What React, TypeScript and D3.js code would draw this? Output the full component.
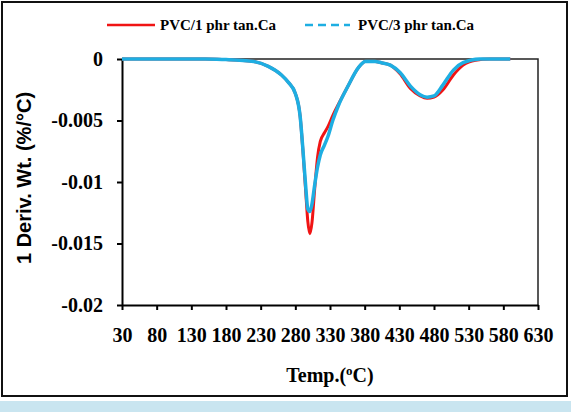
import React, { useRef, useEffect } from "react";
import * as d3 from "d3";

// DTG curves, temperature in °C and derivative weight in %/°C
const temps1 = [30, 100, 150, 180, 200, 220, 241, 260, 270, 280, 287, 291, 295, 298, 301, 304, 308, 312, 316, 322, 327, 334, 342, 356, 371, 381, 395, 404, 417, 431, 446, 460, 470, 480, 493, 508, 522, 540, 560, 590];
const deriv1 = [0, 0, 0, -0.00005, -0.0001, -0.0002, -0.0006, -0.0013, -0.0019, -0.0028, -0.0047, -0.0075, -0.0108, -0.0132, -0.0142, -0.0133, -0.0105, -0.008, -0.0067, -0.006, -0.0055, -0.0046, -0.0037, -0.0022, -0.0007, -0.0002, -0.0002, -0.0003, -0.0005, -0.0012, -0.0024, -0.003, -0.0032, -0.0031, -0.0025, -0.0013, -0.0005, -0.0001, 0, 0];

const temps3 = [30, 100, 150, 180, 200, 220, 241, 260, 270, 280, 287, 291, 295, 298, 301, 304, 308, 312, 316, 322, 327, 334, 342, 356, 371, 381, 395, 404, 417, 431, 446, 460, 470, 480, 493, 508, 522, 546, 570, 590];
const deriv3 = [0, 0, 0, -0.00005, -0.0001, -0.0002, -0.0006, -0.0013, -0.0019, -0.0028, -0.0047, -0.0074, -0.0104, -0.0122, -0.0124, -0.0118, -0.0102, -0.0088, -0.0078, -0.007, -0.0063, -0.005, -0.0038, -0.0022, -0.0007, -0.0002, -0.0002, -0.0003, -0.0005, -0.0011, -0.0022, -0.0029, -0.0031, -0.003, -0.0021, -0.0009, -0.0003, 0, 0, 0];

const xTicks = [30, 80, 130, 180, 230, 280, 330, 380, 430, 480, 530, 580, 630];
const yTicks = [0, -0.005, -0.01, -0.015, -0.02];

const seriesNames = ["PVC/1 phr tan.Ca", "PVC/3 phr tan.Ca"];
const RED = "#f01414";
const BLUE = "#1eaee2";

function App() {
  const svgRef = useRef<SVGSVGElement>(null);
  const width = 571;
  const height = 412;
  const left = 122, right = 538, top = 59, bottom = 305;

  useEffect(() => {
    const svg = d3.select(svgRef.current);
    svg.selectAll("*").remove();

    const x = d3.scaleLinear().domain([30, 630]).range([left, right]);
    const y = d3.scaleLinear().domain([-0.02, 0]).range([bottom, top]);

    // outer frame and bottom band
    svg.append("rect").attr("x", 0).attr("y", 0).attr("width", width).attr("height", height).attr("fill", "#fff");
    svg.append("rect").attr("x", 2).attr("y", 2).attr("width", 565).attr("height", 394)
      .attr("fill", "none").attr("stroke", "#111").attr("stroke-width", 2);
    svg.append("rect").attr("x", 0).attr("y", 401).attr("width", width).attr("height", 11).attr("fill", "#c9e5f0");

    // plot area border (top + right)
    svg.append("path")
      .attr("d", `M${left},${top}H${right}V${bottom}`)
      .attr("fill", "none").attr("stroke", "#222").attr("stroke-width", 1.5);

    const serif = "'Liberation Serif', 'Times New Roman', serif";

    const xAxis = d3.axisBottom(x).tickValues(xTicks).tickSize(5).tickPadding(18).tickSizeOuter(0);
    svg.append("g")
      .attr("transform", `translate(0,${bottom})`)
      .call(xAxis)
      .call(g => g.select(".domain").attr("stroke", "#000").attr("stroke-width", 2))
      .call(g => g.selectAll(".tick line").attr("stroke", "#000").attr("stroke-width", 2))
      .call(g => g.selectAll(".tick text")
        .attr("font-family", serif).attr("font-weight", "bold").attr("font-size", 20).attr("fill", "#000"));

    const yAxis = d3.axisLeft(y).tickValues(yTicks).tickSize(5).tickPadding(14).tickSizeOuter(0)
      .tickFormat(d => String(d));
    svg.append("g")
      .attr("transform", `translate(${left},0)`)
      .call(yAxis)
      .call(g => g.select(".domain").attr("stroke", "#000").attr("stroke-width", 2))
      .call(g => g.selectAll(".tick line").attr("stroke", "#000").attr("stroke-width", 2))
      .call(g => g.selectAll(".tick text")
        .attr("font-family", serif).attr("font-weight", "bold").attr("font-size", 20).attr("fill", "#000"));

    const line = d3.line<[number, number]>()
      .x(d => x(d[0]))
      .y(d => y(d[1]))
      .curve(d3.curveMonotoneX);

    const pts1 = temps1.map((t, i) => [t, deriv1[i]] as [number, number]);
    const pts3 = temps3.map((t, i) => [t, deriv3[i]] as [number, number]);

    svg.append("path").attr("d", line(pts1)).attr("fill", "none")
      .attr("stroke", RED).attr("stroke-width", 3);
    svg.append("path").attr("d", line(pts3)).attr("fill", "none")
      .attr("stroke", BLUE).attr("stroke-width", 3.5);

    // legend
    const lg = svg.append("g").attr("font-family", serif).attr("font-weight", "bold").attr("font-size", 15);
    lg.append("line").attr("x1", 107).attr("x2", 155).attr("y1", 25).attr("y2", 25)
      .attr("stroke", RED).attr("stroke-width", 2.5);
    lg.append("text").attr("x", 160).attr("y", 30).text(seriesNames[0]);
    lg.append("line").attr("x1", 305).attr("x2", 350).attr("y1", 25).attr("y2", 25)
      .attr("stroke", BLUE).attr("stroke-width", 2.5).attr("stroke-dasharray", "8,5");
    lg.append("text").attr("x", 358).attr("y", 30).text(seriesNames[1]);

    // axis titles
    const xt = svg.append("text").attr("x", 330).attr("y", 382).attr("text-anchor", "middle")
      .attr("font-family", serif).attr("font-weight", "bold").attr("font-size", 20);
    xt.append("tspan").text("Temp.(");
    xt.append("tspan").attr("font-size", 13).attr("dy", -7).text("o");
    xt.append("tspan").attr("dy", 7).text("C)");

    svg.append("text")
      .attr("transform", `translate(31,${(top + bottom) / 2 - 4}) rotate(-90)`)
      .attr("text-anchor", "middle")
      .attr("font-family", "'Liberation Sans', Arial, sans-serif")
      .attr("font-weight", "bold").attr("font-size", 20)
      .text("1 Deriv. Wt. (%/°C)");
  }, []);

  return (
    <svg ref={svgRef} width={width} height={height}
      style={{ position: "absolute", left: 0, top: 0, display: "block" }} />
  );
}

export default App;
